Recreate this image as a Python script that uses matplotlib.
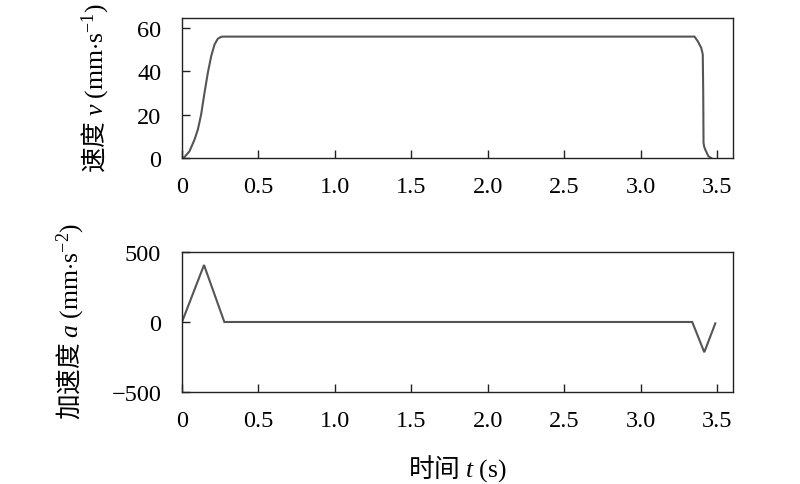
import matplotlib
matplotlib.use("Agg")
import matplotlib.pyplot as plt

# ---- data ----
t_vel = [0.0, 0.016, 0.049, 0.082, 0.104, 0.125, 0.147, 0.169, 0.191, 0.213, 0.234, 0.256, 0.267,
         3.352, 3.373, 3.396, 3.406, 3.409, 3.411, 3.415, 3.422, 3.443, 3.46]
vel = [0.0, 0.4, 3.1, 8.5, 13.2, 20.0, 30.0, 39.3, 47.0, 52.4, 55.0, 55.9, 56.0,
       56.0, 53.9, 50.8, 47.8, 30.0, 7.0, 5.3, 3.9, 0.8, 0.0]

t_acc = [0.0, 0.144, 0.277, 3.337, 3.416, 3.488]
acc = [0.0, 407.0, 0.0, 0.0, -216.0, -10.0]

x_ticks = [0, 0.5, 1.0, 1.5, 2.0, 2.5, 3.0, 3.5]
x_ticklabels = ["0", "0.5", "1.0", "1.5", "2.0", "2.5", "3.0", "3.5"]
v_ticks = [0, 20, 40, 60]
a_ticks = [-500, 0, 500]
a_ticklabels = ["\u2212500", "0", "500"]

plt.rcParams["font.family"] = ["Liberation Serif", "Noto Sans CJK SC"]
plt.rcParams["mathtext.fontset"] = "custom"
plt.rcParams["mathtext.rm"] = "Liberation Serif"
plt.rcParams["mathtext.it"] = "Liberation Serif:italic"
plt.rcParams["axes.unicode_minus"] = True

fig = plt.figure(figsize=(8.0, 4.85), dpi=100)
ax1 = fig.add_axes([0.2275, 0.6722, 0.6888, 0.2887])
ax2 = fig.add_axes([0.2275, 0.1897, 0.6888, 0.2887])

line_color = "#555555"
ax1.plot(t_vel, vel, color=line_color, lw=1.5, solid_joinstyle="round")
ax2.plot(t_acc, acc, color=line_color, lw=1.5, solid_joinstyle="miter")

for ax in (ax1, ax2):
    ax.set_xlim(0, 3.604)
    ax.set_xticks(x_ticks)
    ax.set_xticklabels(x_ticklabels)
    ax.tick_params(direction="in", length=5.5, width=1.0, labelsize=17.5,
                   top=False, right=False, color="#222222")
    ax.tick_params(axis="x", pad=13)
    ax.tick_params(axis="y", pad=15)
    for sp in ax.spines.values():
        sp.set_linewidth(1.0)
        sp.set_color("#222222")

ax1.set_ylim(0, 64.6)
ax1.set_yticks(v_ticks)
ax2.set_ylim(-500, 500)
ax2.set_yticks(a_ticks)
ax2.set_yticklabels(a_ticklabels)

cjk = ["Noto Sans CJK SC"]
ax1.set_ylabel(r"速度 $v\ (\mathrm{mm}{\cdot}\mathrm{s}^{-1})$", family=cjk, fontsize=18.5)
ax2.set_ylabel(r"加速度 $a\ (\mathrm{mm}{\cdot}\mathrm{s}^{-2})$", family=cjk, fontsize=18.5)
ax2.set_xlabel(r"时间 $t\ (\mathrm{s})$", family=cjk, fontsize=18.5)

ax1.yaxis.set_label_coords(-0.131, 0.51)
ax2.yaxis.set_label_coords(-0.176, 0.51)
ax2.xaxis.set_label_coords(0.5, -0.43)

fig.savefig("out.png", dpi=100, facecolor="white")
